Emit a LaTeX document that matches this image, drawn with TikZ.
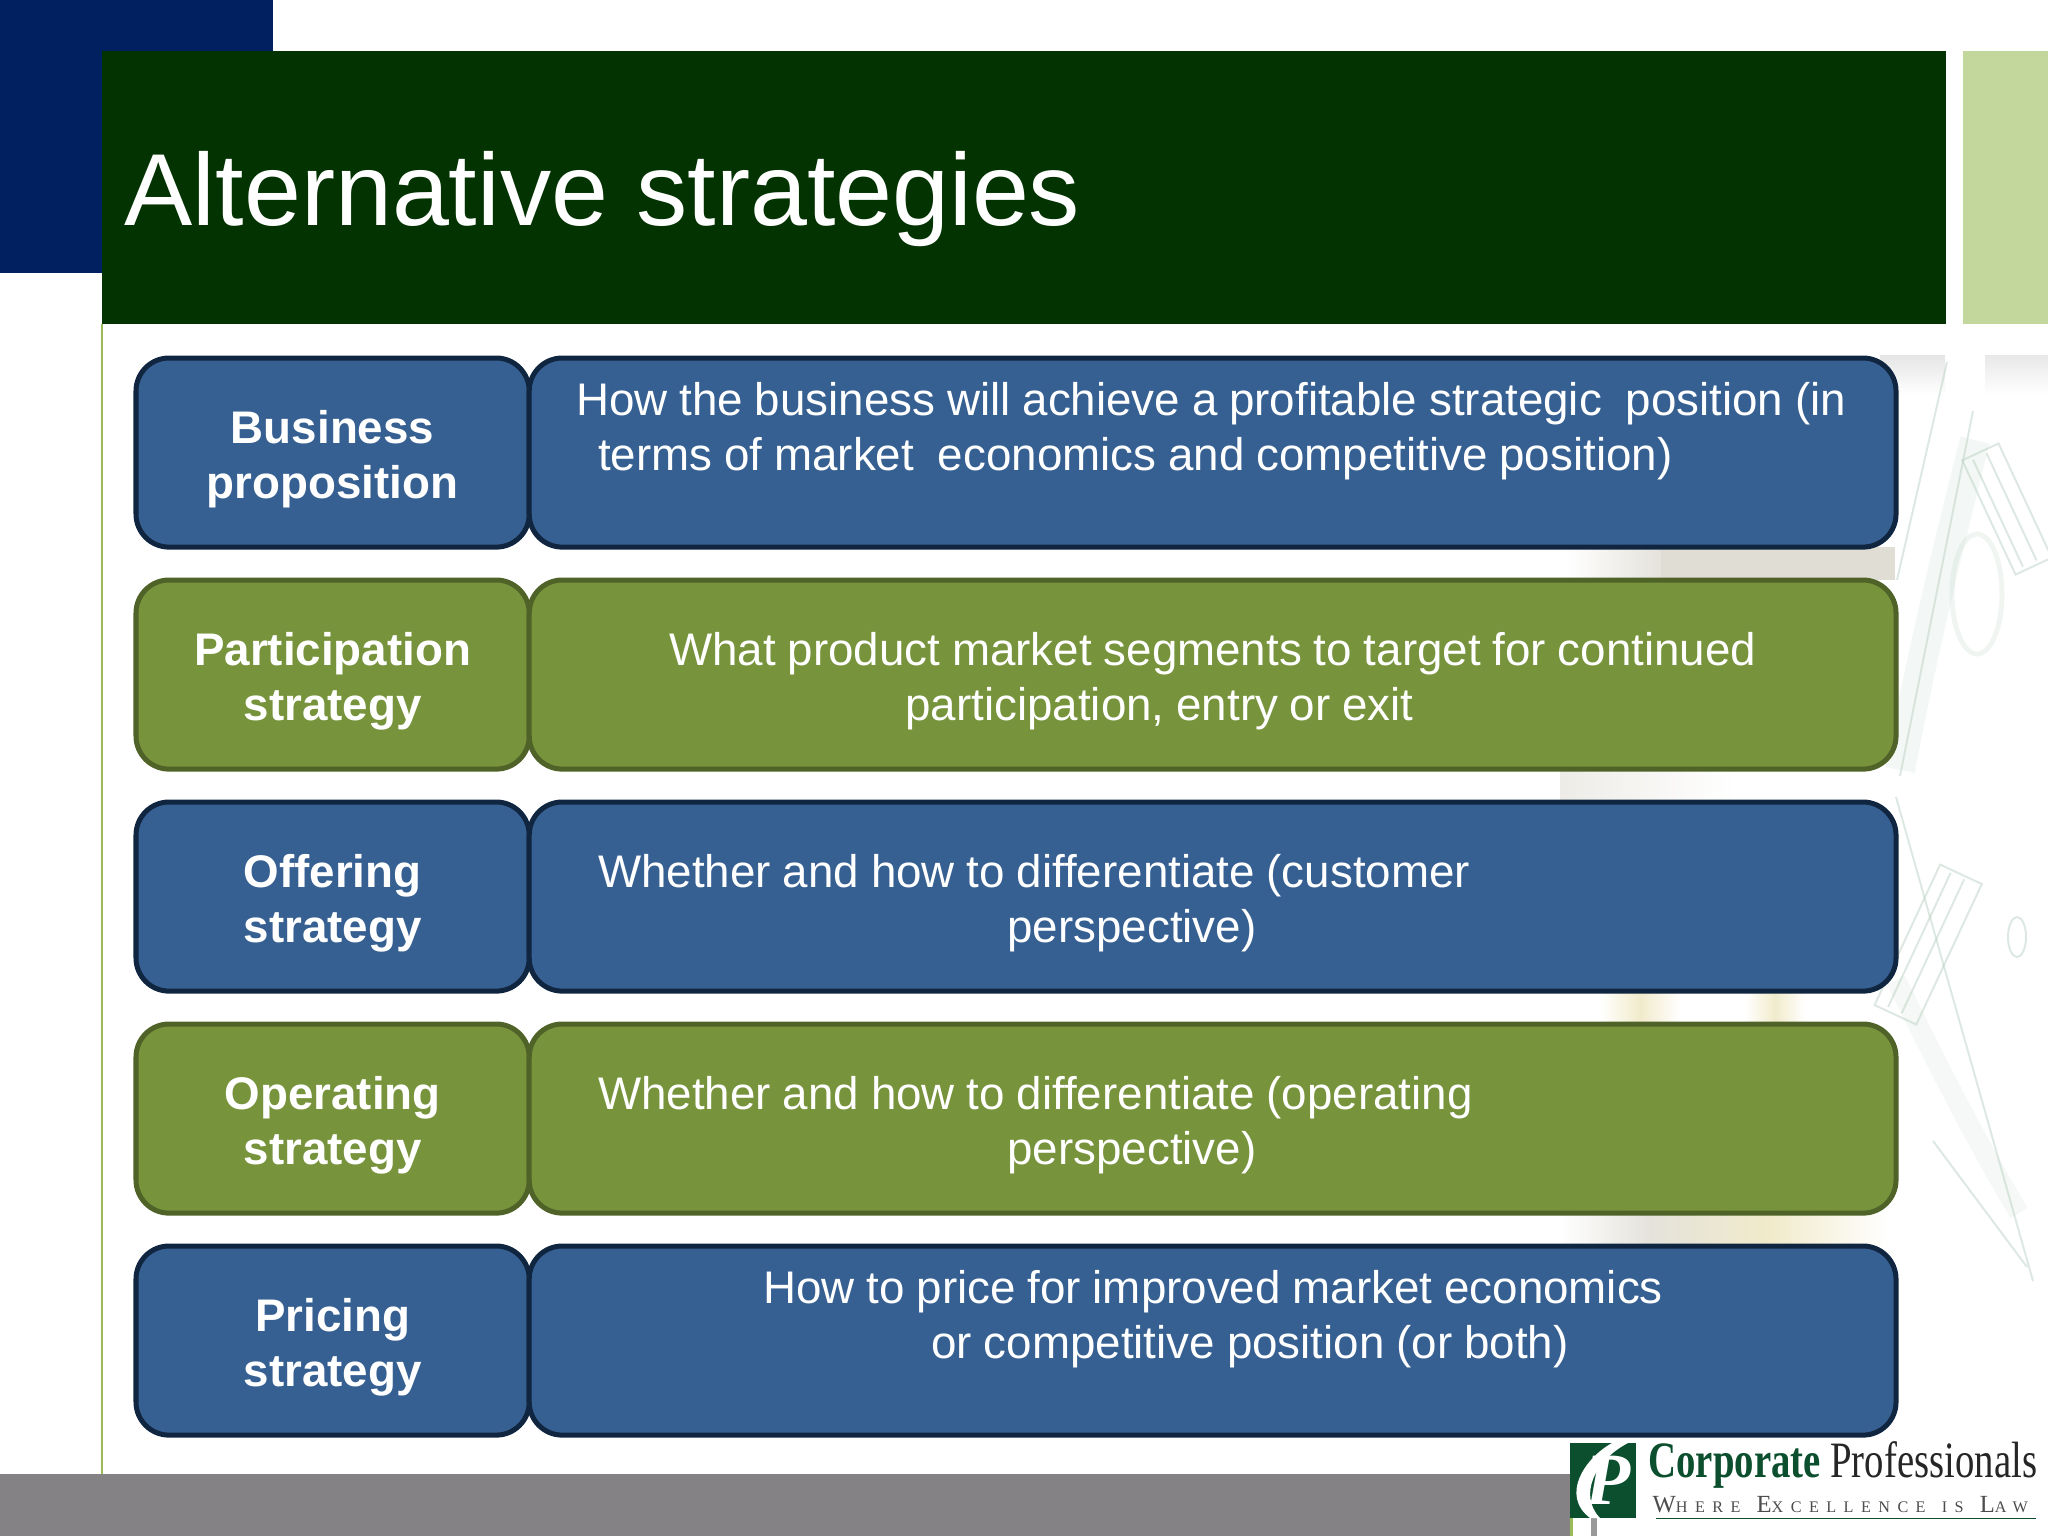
\documentclass[tikz,border=0pt]{standalone}
\usepackage{fontspec}
\setmainfont{Liberation Sans}
\newfontfamily\logofont{Liberation Serif}
\usetikzlibrary{positioning}
\definecolor{navyblock}{HTML}{00205F}
\definecolor{bannergreen}{HTML}{023300}
\definecolor{palegreen}{HTML}{C3D69B}
\definecolor{rulegreen}{HTML}{9BBB59}
\definecolor{footgray}{HTML}{848285}
\definecolor{boxblue}{HTML}{376092}
\definecolor{boxblueline}{HTML}{10253F}
\definecolor{boxgreen}{HTML}{77933C}
\definecolor{boxgreenline}{HTML}{4F6228}
\definecolor{logogreen}{HTML}{0B4F2E}
\definecolor{billgreen}{HTML}{B5CDBE}
\definecolor{cointan}{HTML}{F1EBCB}
\definecolor{coingray}{HTML}{D3CFC3}
\tikzset{
  basebox/.style={draw,line width=0.05cm,rounded corners=0.33cm,text=white,minimum height=1.89cm,inner sep=0pt,outer sep=0pt,execute at begin node={\spaceskip=0.26em\rule{0pt}{13.1pt}}},
  headbox/.style={basebox,minimum width=3.93cm,text width=3.93cm,align=center,font=\fontsize{13}{15.5}\selectfont\bfseries},
  textbox/.style={basebox,minimum width=13.66cm,text width=13.66cm,align=left,font=\fontsize{13}{15.5}\selectfont},
  bluerow/.style={fill=boxblue,draw=boxblueline},
  greenrow/.style={fill=boxgreen,draw=boxgreenline},
  faintline/.style={billgreen,line width=0.02cm,opacity=0.45}
}
\newcommand{\ind}[1]{\hspace*{#1cm}}
\newcommand{\tagcap}[1]{{\fontsize{7}{7}\selectfont #1}}
\begin{document}
\begin{tikzpicture}[x=0.01cm,y=-0.01cm]
\useasboundingbox (0,0) rectangle (2048,1536);
% faded artwork behind the rows
\begin{scope}
\clip (1500,340) rectangle (2048,1440);
\shade[top color=black!10,bottom color=white] (1880,355) rectangle (1945,395);
\shade[top color=black!9,bottom color=white] (1985,355) rectangle (2048,395);
% patches seen in the gaps
\shade[left color=white,right color=coingray!60] (1566,547) rectangle (1661,580);
\fill[coingray,opacity=0.7] (1661,547) rectangle (1895,580);
\shade[left color=coingray!40,right color=white] (1560,769) rectangle (1735,802);
\shade[left color=white,right color=cointan] (1600,991) rectangle (1640,1024);
\shade[left color=cointan,right color=white] (1640,991) rectangle (1680,1024);
\shade[left color=white,right color=cointan] (1745,991) rectangle (1775,1024);
\shade[left color=cointan,right color=white] (1775,991) rectangle (1805,1024);
\shade[left color=white,right color=coingray!60] (1560,1213) rectangle (1650,1246);
\shade[left color=coingray!60,right color=cointan] (1650,1213) rectangle (1770,1246);
\shade[left color=cointan,right color=white] (1770,1213) rectangle (1890,1246);
% the bill
\draw[billgreen,line width=0.3cm,opacity=0.16] (1975,440) .. controls (1945,560) and (1925,640) .. (1900,770);
\draw[billgreen,line width=0.2cm,opacity=0.14] (1896,980) .. controls (1930,1050) and (1970,1130) .. (2019,1213);
\draw[faintline] (1947,362)--(1897,580);
\draw[faintline] (1973,411)--(1900,776);
\draw[faintline] (1896,797)--(2033,1281);
\draw[faintline] (1933,1141)--(2027,1267);
\draw[faintline,rotate around={25:(2007,509)}] (1987,446) rectangle (2027,572);
\draw[faintline,rotate around={-25:(1928,945)}] (1905,867) rectangle (1951,1022);
\foreach \d in {-10,5} {
\draw[faintline,rotate around={25:(2007,509)}] (2007+\d,450)--(2007+\d,568);
\draw[faintline,rotate around={-25:(1928,945)}] (1928+\d,870)--(1928+\d,1018);
}
\draw[billgreen,line width=0.05cm,opacity=0.2] (1977,594) ellipse (25 and 60);
\draw[faintline] (2017,937) ellipse (9 and 20);
\end{scope}
% slide frame
\fill[navyblock] (0,0) rectangle (273,273);
\fill[footgray] (0,1474) rectangle (1570,1536);
\draw[rulegreen,line width=0.02cm] (102,324)--(102,1474);
\fill[bannergreen] (102,51) rectangle (1946,324);
\fill[palegreen] (1963,51) rectangle (2048,324);
\node[anchor=west,text=white,inner sep=0pt,font=\fontsize{29.1}{33}\selectfont] (slidetitle) at (124,199) {Alternative strategies};
% left column
\node[headbox,bluerow,anchor=north west] (bizhead) at (136,358) {Business\\proposition};
\node[headbox,greenrow,anchor=north west] (parthead) at (136,580) {Participation\\strategy};
\node[headbox,bluerow,anchor=north west] (offerhead) at (136,802) {Offering\\strategy};
\node[headbox,greenrow,anchor=north west] (operhead) at (136,1024) {Operating\\strategy};
\node[headbox,bluerow,anchor=north west] (pricehead) at (136,1246) {Pricing\\strategy};
% right column
\node[textbox,bluerow,right=0pt of bizhead] (biztext) {\ind{0.47}How the business will achieve a profitable strategic~ position (in\\\ind{0.69}terms of market~ economics and competitive position)\\[3pt]\mbox{}};
\node[textbox,greenrow,right=0pt of parthead] (parttext) {\ind{1.40}What product market segments to target for continued\\\ind{3.76}participation, entry or exit};
\node[textbox,bluerow,right=0pt of offerhead] (offertext) {\ind{0.69}Whether and how to differentiate (customer\\\ind{4.78}perspective)};
\node[textbox,greenrow,right=0pt of operhead] (opertext) {\ind{0.69}Whether and how to differentiate (operating\\\ind{4.78}perspective)};
\node[textbox,bluerow,right=0pt of pricehead] (pricetext) {\ind{2.34}How to price for improved market economics\\\ind{4.02}or competitive position (or both)\\[3pt]\mbox{}};
% logo
\fill[white] (1570,1440) rectangle (2048,1536);
\fill[rulegreen] (1570,1518) rectangle (1573,1536);
\fill[black!40] (1591,1518) rectangle (1597,1536);
\fill[logogreen] (1570,1443) rectangle (1636,1518);
\fill[white] (1612,1443) .. controls (1585,1458) and (1560,1495) .. (1590,1518) -- (1600,1518) .. controls (1578,1495) and (1595,1460) .. (1628,1443) -- cycle;
\node[text=white,inner sep=0pt,font=\logofont\fontsize{21}{21}\selectfont\bfseries\itshape] (logop) at (1608,1480) {P};
\node[anchor=west,inner sep=0pt,text=logogreen,xscale=0.76,font=\logofont\fontsize{14.5}{15}\selectfont] (logoname) at (1648,1465) {\textbf{Corporate} \textcolor{black!85}{Professionals}};
\node[anchor=west,inner sep=0pt,text=black!70,font=\logofont\fontsize{4.6}{6}\selectfont] (logotag) at (1652,1505) {\addfontfeature{LetterSpace=46}\tagcap{W}HERE\quad\tagcap{E}XCELLENCE\quad IS\quad\tagcap{L}AW};
\draw[logogreen,line width=0.01cm] (1656,1518)--(2036,1518);
\end{tikzpicture}
\end{document}
